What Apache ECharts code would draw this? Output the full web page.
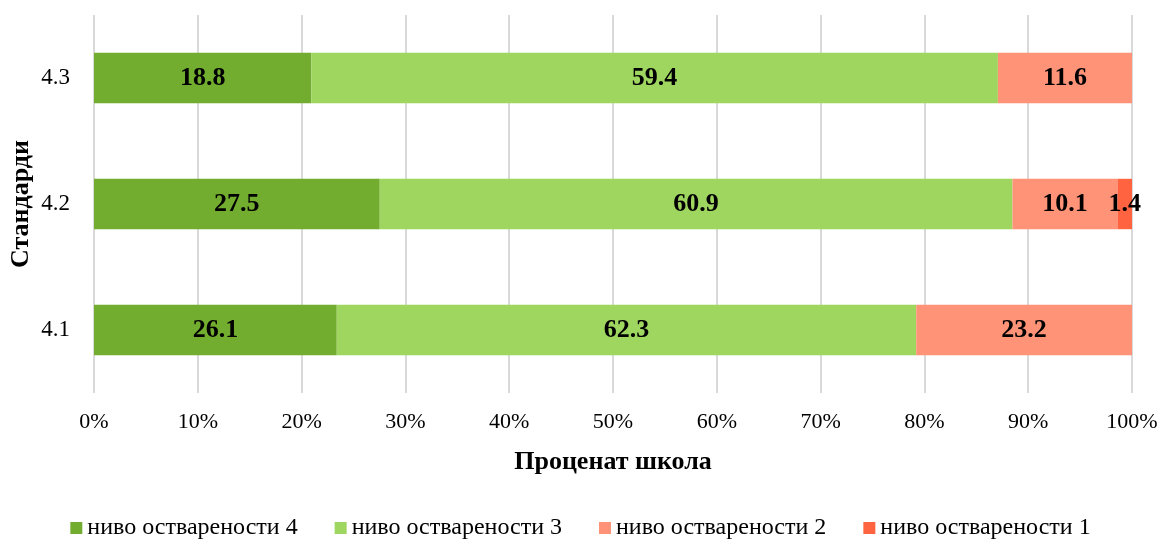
<!DOCTYPE html>
<html>
<head>
<meta charset="utf-8">
<script src="https://cdn.jsdelivr.net/npm/echarts@6/dist/echarts.min.js"></script>
<style>
  html, body { margin: 0; padding: 0; background: #fff; }
  #chart { width: 1161px; height: 539px; }
</style>
</head>
<body>
<div id="chart"></div>
<script>
// стандарди (одоздо нагоре)
var categories = ['4.1', '4.2', '4.3'];
var names = ['ниво остварености 4', 'ниво остварености 3', 'ниво остварености 2', 'ниво остварености 1'];
var level4 = [26.1, 27.5, 18.8];
var level3 = [62.3, 60.9, 59.4];
var level2 = [23.2, 10.1, 11.6];
var level1 = [0, 1.4, 0];
var xTicks = ['0%', '10%', '20%', '30%', '40%', '50%', '60%', '70%', '80%', '90%', '100%'];
var colors = ['#72ad2f', '#9fd660', '#ff9378', '#ff6340'];

var raw = [level4, level3, level2, level1];
// збир по категорији, за 100% наслагане траке
var totals = categories.map(function (c, i) {
  return raw.reduce(function (s, arr) { return s + arr[i]; }, 0);
});

var chart = echarts.init(document.getElementById('chart'));
var font = '"Liberation Serif", "Times New Roman", serif';

var series = raw.map(function (arr, k) {
  return {
    name: names[k],
    type: 'bar',
    stack: 'total',
    barCategoryGap: '60%',
    itemStyle: { color: colors[k] },
    label: {
      show: true,
      position: 'inside',
      color: '#000',
      fontFamily: font,
      fontWeight: 'bold',
      fontSize: 26,
      formatter: function (p) { return arr[p.dataIndex] ? arr[p.dataIndex].toFixed(1) : ''; }
    },
    data: arr.map(function (v, i) { return v / totals[i] * 100; })
  };
});

chart.setOption({
  animation: false,
  textStyle: { fontFamily: font },
  grid: { left: 94, right: 29, top: 15, bottom: 146, containLabel: false, outerBoundsMode: 'none' },
  legend: {
    top: 511,
    left: 'center',
    itemWidth: 12,
    itemHeight: 12,
    itemGap: 37,
    icon: 'rect',
    textStyle: { fontFamily: font, fontSize: 24, color: '#000' },
    data: names
  },
  xAxis: {
    type: 'value',
    min: 0,
    max: 100,
    interval: 10,
    name: 'Проценат школа',
    nameLocation: 'middle',
    nameGap: 56,
    nameMoveOverlap: false,
    nameTextStyle: { fontFamily: font, fontSize: 26, fontWeight: 'bold', color: '#000' },
    axisLine: { show: false },
    axisTick: { show: false },
    axisLabel: {
      fontFamily: font, fontSize: 22, color: '#000', margin: 18,
      formatter: function (v) { return xTicks[Math.round(v / 10)]; }
    },
    splitLine: { show: true, lineStyle: { color: '#d9d9d9', width: 2 } }
  },
  yAxis: {
    type: 'category',
    data: categories,
    name: 'Стандарди',
    nameLocation: 'middle',
    nameGap: 60,
    nameMoveOverlap: false,
    nameTextStyle: { fontFamily: font, fontSize: 26, fontWeight: 'bold', color: '#000' },
    axisLine: { show: false },
    axisTick: { show: false },
    axisLabel: { fontFamily: font, fontSize: 23, color: '#000', margin: 24 }
  },
  series: series
});
</script>
</body>
</html>
